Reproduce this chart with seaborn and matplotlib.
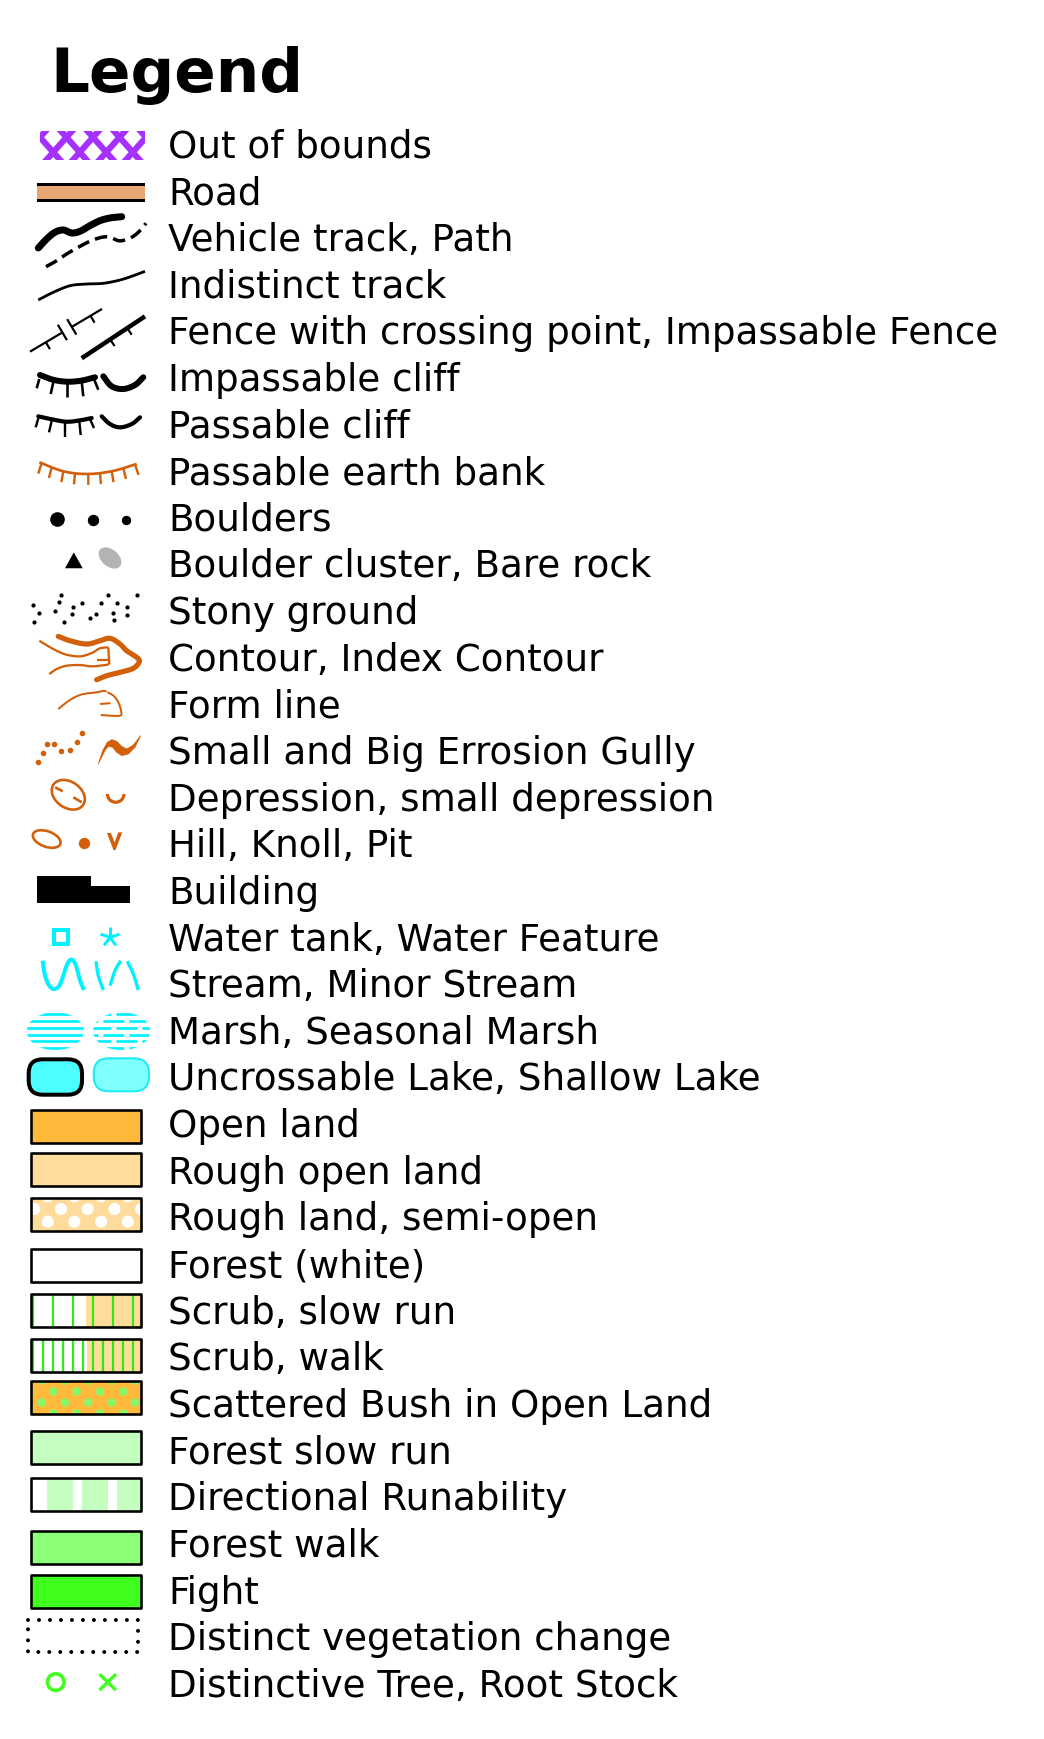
import numpy as np
import matplotlib
matplotlib.use("Agg")
import matplotlib.pyplot as plt
from matplotlib.patches import Rectangle, Ellipse, Polygon, FancyBboxPatch, Circle, Arc
import seaborn as sns

title = "Legend"
labels = [
    "Out of bounds", "Road", "Vehicle track, Path", "Indistinct track",
    "Fence with crossing point, Impassable Fence", "Impassable cliff",
    "Passable cliff", "Passable earth bank", "Boulders",
    "Boulder cluster, Bare rock", "Stony ground", "Contour, Index Contour",
    "Form line", "Small and Big Errosion Gully", "Depression, small depression",
    "Hill, Knoll, Pit", "Building", "Water tank, Water Feature",
    "Stream, Minor Stream", "Marsh, Seasonal Marsh",
    "Uncrossable Lake, Shallow Lake", "Open land", "Rough open land",
    "Rough land, semi-open", "Forest (white)", "Scrub, slow run", "Scrub, walk",
    "Scattered Bush in Open Land", "Forest slow run", "Directional Runability",
    "Forest walk", "Fight", "Distinct vegetation change",
    "Distinctive Tree, Root Stock",
]

# map colours
purple = "#A531FF"
road_tan = "#E8A673"
brown = "#D2600A"
rock_grey = "#B3B3B3"
cyan = "#00F2FF"
lake_deep = "#4DFFFF"
lake_shallow = "#80FFFF"
open_orange = "#FFBA3B"
rough_orange = "#FFDB9C"
light_green = "#C5FFBF"
mid_green = "#8CFF78"
fight_green = "#40FF1E"
bush_green = "#86F96A"
stripe_green = "#2EEB14"

# vegetation swatches (rows 21-31)
swatch_fill = [open_orange, rough_orange, rough_orange, "white", "white", "white",
               open_orange, light_green, light_green, mid_green, fight_green]
swatch_pattern = ["plain", "plain", "white_dots", "plain", "scrub_slow", "scrub_walk",
                  "green_dots", "plain", "directional", "plain", "plain"]

# ---- layout (pixels) ----
W, H = 1044, 1740
PX = 72 / 100          # points per pixel at dpi 100
ROW0, STEP = 144, 46.64
TEXT_X = 168
swatch_shift = [3.6, 0, -1.7, 3.1, 1.5, 0, -4.3, -1.2, -1, 4.8, 3]

sns.set_theme(style="white")
plt.rcParams["font.family"] = ["DejaVu Sans"]
plt.rcParams["text.color"] = "black"
plt.rcParams["lines.scale_dashes"] = False

fig = plt.figure(figsize=(W / 100, H / 100), dpi=100)
ax = fig.add_axes([0, 0, 1, 1])


def row_y(i):
    return ROW0 + STEP * i


def smooth(local, n=10):
    p = np.asarray(local, float)
    if len(p) < 3:
        return p
    ext = np.vstack([2 * p[0] - p[1], p, 2 * p[-1] - p[-2]])
    t = np.linspace(0, 1, n, endpoint=False)[:, None]
    out = []
    for j in range(1, len(ext) - 2):
        p0, p1, p2, p3 = ext[j - 1], ext[j], ext[j + 1], ext[j + 2]
        out.append(0.5 * (2 * p1 + (-p0 + p2) * t + (2 * p0 - 5 * p1 + 4 * p2 - p3) * t ** 2
                          + (-p0 + 3 * p1 - 3 * p2 + p3) * t ** 3))
    out.append(p[-1:])
    return np.vstack(out)


def stroke(i, local, lw, color, curve=True, cap="round", **kw):
    p = smooth(local) if curve else np.asarray(local, float)
    ln, = ax.plot(p[:, 0], row_y(i) + p[:, 1], color=color, lw=lw * PX,
                  solid_capstyle=cap, solid_joinstyle="round", dash_capstyle="butt", **kw)
    return ln


def dots(i, xs, dys, r, color):
    sns.scatterplot(x=list(xs), y=[row_y(i) + d for d in dys], s=(2 * r * PX) ** 2,
                    color=color, linewidth=0, ax=ax, legend=False, zorder=3)


# ---- title and labels ----
ax.text(50, 92, title, fontsize=44, fontweight="bold", va="baseline", ha="left",
        color="black")
for i, lab in enumerate(labels):
    ax.text(TEXT_X, row_y(i) + 13.7, lab, fontsize=26.8, va="baseline", ha="left",
            color="black")

# 0 out of bounds
y = row_y(0)
ob = Rectangle((40, y - 12.5), 105, 29, facecolor="white", edgecolor="none")
ax.add_patch(ob)
for k in range(-2, 7):
    xc, yc = 40 + 26.5 * k, y - 5.7
    for s in (1, -1):
        ln, = ax.plot([xc - 2 * s * 13.3, xc + 2 * s * 13.3], [yc - 30, yc + 30],
                      color=purple, lw=6.2 * PX, solid_capstyle="butt")
        ln.set_clip_path(ob)

# 1 road
y = row_y(1)
ax.add_patch(Rectangle((37, y - 6.6), 108, 18.6, facecolor="black", edgecolor="none"))
ax.add_patch(Rectangle((37, y - 3.9), 108, 13.2, facecolor=road_tan, edgecolor="none"))

# 2 vehicle track, path
stroke(2, [(38.3, 11.7), (46.7, 2.7), (55, -4), (63.3, -6.3), (71.7, -3.3), (80, -5),
           (90, -10.6), (100, -15.6), (110, -18.3), (121.7, -19.6)], 7, "black")
stroke(2, [(46, 30.4), (56.7, 24.4), (66.7, 17.7), (78.3, 11), (90, 5), (101.7, 1),
           (110, 1), (118.3, 4.4), (125, 3.7), (131.7, 1), (138.3, -4), (146, -13)],
       3.5, "black", cap="butt", linestyle=(0, (9, 4.5)))

# 3 indistinct track
stroke(3, [(38.3, 17), (53.3, 9.4), (70, 2.8), (86.7, 1.1), (103.3, 0.4), (120, -2.9),
           (133.3, -7.2), (145, -11.6)], 2.8, "black", cap="butt")

# 4 fences
A, B = np.array([30, 22.1]), np.array([102, -20.6])
d = (B - A) / np.linalg.norm(B - A)
nrm = np.array([-d[1], d[0]])
if nrm[1] < 0:
    nrm = -nrm
C1, C2 = A + 0.45 * (B - A), A + 0.58 * (B - A)
stroke(4, [A, C1], 2.2, "black", curve=False, cap="butt")
stroke(4, [C2, B], 2.2, "black", curve=False, cap="butt")
for c in (C1, C2):
    stroke(4, [c - 9 * nrm, c + 9 * nrm], 2.2, "black", curve=False, cap="butt")
for t in (0.22, 0.84):
    c = A + t * (B - A)
    stroke(4, [c, c + 8 * nrm], 2.2, "black", curve=False, cap="butt")
A2, B2 = np.array([81.7, 28.7]), np.array([145, -13.2])
stroke(4, [A2, B2], 4.5, "black", curve=False, cap="butt")
d2 = (B2 - A2) / np.linalg.norm(B2 - A2)
n2 = np.array([-d2[1], d2[0]])
if n2[1] < 0:
    n2 = -n2
for t in (0.45, 0.72):
    c = A2 + t * (B2 - A2)
    stroke(4, [c, c + 8 * n2], 2.2, "black", curve=False, cap="butt")

# 5 impassable cliff
stroke(5, [(40, -1.2), (53, 3.5), (66.7, 5.5), (81, 4.5), (95, 1.1)], 6, "black")
for a, b in [((39.3, 2.8), (36.7, 12.1)), ((53.3, 6.1), (50.7, 17.8)), ((66.7, 6.8), (66.7, 21.1)),
             ((81.7, 5.5), (83.3, 20.1)), ((94, 2.8), (98.3, 13.5))]:
    stroke(5, [a, b], 2.6, "black", curve=False, cap="butt")
stroke(5, [(103.3, 0.1), (111.7, 10.1), (123.3, 12.8), (135, 8.8), (143.3, 1.1)], 6, "black")

# 6 passable cliff
stroke(6, [(38.3, -6.5), (52, -3.5), (66.7, -1.1), (80, -2.5), (91.7, -4.8)], 4.2, "black")
for a, b in [((38.3, -4.5), (35.7, 4.5)), ((51.7, -2.1), (49, 9.5)), ((65, -0.5), (65, 13.9)),
             ((79.3, -1.5), (80.7, 12.2)), ((90, -3.8), (94, 5.2))]:
    stroke(6, [a, b], 2.4, "black", curve=False, cap="butt")
stroke(6, [(101.7, -6.5), (110, 1.2), (120, 4.5), (131.7, 1.2), (140, -5.5)], 4.2, "black")

# 7 passable earth bank
bank = smooth([(39.3, -7.2), (63.3, 1.8), (86.7, 4.5), (111.7, 1.8), (136.7, -5.5)])
ax.plot(bank[:, 0], row_y(7) + bank[:, 1], color=brown, lw=2.7 * PX, solid_capstyle="butt")
for tx in [41.7, 51.7, 63.3, 75, 88.3, 100, 111.7, 123.3, 135]:
    ty = np.interp(tx, bank[:, 0], bank[:, 1])
    a = (tx - 88) / 50 * 0.35
    stroke(7, [(tx, ty), (tx + 11 * np.sin(a), ty + 11 * np.cos(a))], 2.4, brown,
           curve=False, cap="butt")

# 8 boulders
for bx, bdy, br in [(56.7, 3, 7.3), (93.3, 3.5, 5.7), (126, 3.9, 4.7)]:
    dots(8, [bx], [bdy], br, "black")

# 9 boulder cluster, bare rock
y = row_y(9)
ax.add_patch(Polygon([(65, y + 5.5), (82.7, y + 5.5), (73.8, y - 10.4)], closed=True,
                     facecolor="black", edgecolor="none"))
ax.add_patch(Ellipse((110, y - 4.8), 26, 17, angle=40, facecolor=rock_grey, edgecolor="none"))

# 10 stony ground
stony = [(33.3, -4.7), (39.3, 3.9), (34.3, 12.3), (61.3, -14.4), (59.3, -7.1), (55.3, 1.3),
         (64, 12.3), (73.3, -2.4), (71.7, 4.6), (82, -6.4), (89.7, 8.9), (96.3, 4.6),
         (101, -6.1), (108, -14.1), (117.3, -6.4), (112.7, 3.9), (113.7, 10.3),
         (127.3, -2.7), (126.7, 5.9), (136.7, -14.4)]
dots(10, [p[0] for p in stony], [p[1] for p in stony], 2.1, "black")

# 11 contour, index contour
stroke(11, [(58.3, -19.7), (70, -15.3), (86.7, -12), (100, -15.3), (110, -17.7), (120, -12),
            (126.7, -5.3), (136.7, 1.3), (139.3, 5.7), (133.3, 12.3), (120, 16.3),
            (106.7, 19.7), (96.7, 23.7)], 5.2, brown)
stroke(11, [(39.3, -15.3), (53.3, -7), (66, -1.5), (80, 0.3), (91.7, -3), (100, -7.7),
            (108.3, -8.7)], 2.3, brown, cap="butt")
stroke(11, [(108.3, -8.7), (109.3, 8)], 2.3, brown, curve=False, cap="butt")
stroke(11, [(109.3, 8), (105, 9), (91.7, 10.3), (80, 9), (66.7, 9.7), (56.7, 13),
            (49.3, 18)], 2.3, brown, cap="butt")
stroke(11, [(97.3, 4), (108.3, 4)], 2.3, brown, curve=False, cap="butt")

# 12 form line
stroke(12, [(58.3, 6.3), (70, -2.7), (81.7, -8.2), (96.7, -10.4), (103.3, -11.7),
            (106.7, -11.2)], 2, brown, cap="butt")
stroke(12, [(107.5, -10.5), (114, -6.5), (118.5, 0), (121, 8), (120.5, 12.8), (111, 13),
            (100.8, 12.3)], 2, brown, cap="butt")
stroke(12, [(100, 1.3), (110.5, 0.5)], 2, brown, curve=False, cap="butt")

# 13 erosion gullies
gully = [(38.3, 13), (42.7, 4), (47.3, -5), (54.3, -5), (61.3, 2), (70.3, 0.4), (76.7, -7.3),
         (82, -16.3)]
dots(13, [p[0] for p in gully], [p[1] for p in gully], 2.8, brown)
y = row_y(13)
big = [(98.3, 14.7), (102.7, 1.3), (107.3, -7), (111.7, -9.7), (116.7, -8), (121.7, -3),
       (126.7, -0.3), (133.3, -4.3), (140.7, -13.7), (135, -2), (128.3, 4.7), (121.7, 6.3),
       (116.7, 3), (112.7, -2), (108.3, -3), (105, 1.3)]
ax.add_patch(Polygon([(px, y + py) for px, py in big], closed=True, facecolor=brown,
                     edgecolor=brown, lw=0.5, joinstyle="round"))

# 14 depression, small depression
y = row_y(14)
ax.add_patch(Ellipse((68.3, y - 1.2), 36, 26, angle=35, facecolor="none", edgecolor=brown,
                     lw=2.6 * PX))
stroke(14, [(55, -8.7), (62.7, -4.7)], 2.6, brown, curve=False, cap="butt")
stroke(14, [(73.3, 1.3), (81.7, 6.3)], 2.6, brown, curve=False, cap="butt")
ax.add_patch(Arc((115.7, y - 2), 16.6, 16.6, theta1=0, theta2=180, color=brown, lw=3.2 * PX))

# 15 hill, knoll, pit
y = row_y(15)
ax.add_patch(Ellipse((46.7, y - 3.6), 29, 15.5, angle=20, facecolor="none", edgecolor=brown,
                     lw=2.6 * PX))
dots(15, [84.3], [0.4], 5.7, brown)
pit = [(107, -9.6), (111, -9.6), (114.5, 0), (118.3, -10.3), (122.3, -10.3), (115.5, 7.5),
       (113.5, 7.5)]
ax.add_patch(Polygon([(px, y + py) for px, py in pit], closed=True, facecolor=brown,
                     edgecolor="none"))

# 16 building
y = row_y(16)
bld = [(36.7, -13.5), (90.7, -13.5), (90.7, -2.9), (130, -2.9), (130, 14.1), (36.7, 14.1)]
ax.add_patch(Polygon([(px, y + py) for px, py in bld], closed=True, facecolor="black",
                     edgecolor="none"))

# 17 water tank, water feature
y = row_y(17)
ax.add_patch(Rectangle((54.3, y - 5.4), 13.7, 13.7, facecolor="none", edgecolor=cyan,
                       lw=4 * PX, joinstyle="miter"))
for ang in (90, 162, 234, 306, 18):
    r = np.deg2rad(ang)
    stroke(17, [(110, 1.4), (110 + 10 * np.cos(r), 1.4 - 10 * np.sin(r))], 3, cyan,
           curve=False, cap="butt")

# 18 stream, minor stream
stroke(18, [(42.7, -21.8), (44, -11.8), (46.7, -1.8), (50.7, 4.8), (55, 6.5), (59.3, 3.2),
            (62.7, -5.2), (66, -15.2), (69.3, -21.8), (72.7, -22.5), (76, -16.8),
            (78.7, -6.8), (81.3, 1.5), (84, 7.5)], 4, cyan, cap="butt")
for seg in ([(96, -21.2), (98.3, -6.8), (103.3, 7.5)],
            [(110, 3.2), (115, -11.8), (120.7, -21.8)],
            [(127.3, -21.2), (133.3, -8.5), (138.3, 7.5)]):
    stroke(18, seg, 3.3, cyan, cap="butt")

# 19 marsh, seasonal marsh
y = row_y(19)
for mx, seasonal in ((55.3, False), (121.7, True)):
    clip = Ellipse((mx, y + 2), 57, 38, facecolor="none", edgecolor="none")
    ax.add_patch(clip)
    for j, ldy in enumerate([-15, -8.2, -1.4, 5.4, 12.2, 19]):
        if seasonal:
            ls = (0 if j % 2 == 0 else 9.4, (15.1, 3.6))
        else:
            ls = "-"
        ln, = ax.plot([mx - 32, mx + 32], [y + ldy, y + ldy], color=cyan, lw=2.7 * PX,
                      linestyle=ls, solid_capstyle="butt", dash_capstyle="butt")
        ln.set_clip_path(clip)

# 20 lakes
y = row_y(20)
ax.add_patch(FancyBboxPatch((28.7, y - 16.5), 53.3, 35.4, boxstyle="round,pad=0,rounding_size=14",
                            facecolor=lake_deep, edgecolor="black", lw=4 * PX))
ax.add_patch(FancyBboxPatch((93.7, y - 17.5), 55.3, 33, boxstyle="round,pad=0,rounding_size=15",
                            facecolor=lake_shallow, edgecolor="#19EDF5", lw=2 * PX))

# 21-31 vegetation swatches
for k, (fill, pat, sh) in enumerate(zip(swatch_fill, swatch_pattern, swatch_shift)):
    cy = row_y(21 + k) + sh
    x0, x1, h = 31, 141, 33
    y0 = cy - h / 2
    base = Rectangle((x0, y0), x1 - x0, h, facecolor=fill, edgecolor="none", zorder=2)
    ax.add_patch(base)
    if pat == "white_dots":
        for rdy, xstart in ((-17.7, 47.7), (-5, 34.3), (7.7, 47.7)):
            for xc in np.arange(xstart, x1 + 8, 26.7):
                c = Circle((xc, cy + rdy), 6, facecolor="white", edgecolor="none", zorder=3)
                ax.add_patch(c)
                c.set_clip_path(base)
    elif pat == "green_dots":
        for rdy, xstart in ((-17.5, 41.7), (-6.5, 30), (4.5, 41.7), (15.5, 30)):
            for xc in np.arange(xstart, x1 + 6, 23.3):
                c = Circle((xc, cy + rdy), 4.2, facecolor=bush_green, edgecolor="none", zorder=3)
                ax.add_patch(c)
                c.set_clip_path(base)
    elif pat in ("scrub_slow", "scrub_walk"):
        split = 85.5 if pat == "scrub_slow" else 86.7
        ax.add_patch(Rectangle((split, y0), x1 - split, h, facecolor=rough_orange,
                               edgecolor="none", zorder=2))
        step = 20 if pat == "scrub_slow" else 10
        ax.vlines(np.arange(33.3, x1, step), y0, y0 + h, colors=stripe_green,
                  lw=2.2 * PX, zorder=3)
    elif pat == "directional":
        for wx0, wx1 in ((31, 46.7), (73, 81.7), (108.3, 117.3)):
            ax.add_patch(Rectangle((wx0, y0), wx1 - wx0, h, facecolor="white",
                                   edgecolor="none", zorder=3))
    ax.add_patch(Rectangle((x0, y0), x1 - x0, h, facecolor="none", edgecolor="black",
                           lw=2.6 * PX, zorder=4, joinstyle="round"))

# 32 distinct vegetation change
y = row_y(32)
dv = Rectangle((28.3, y - 15.8), 110, 32.2, facecolor="none", edgecolor="black",
               lw=4 * PX, linestyle=(0, (0.01, 7.9)))
dv.set_capstyle("round")
ax.add_patch(dv)

# 33 distinctive tree, root stock
y = row_y(33)
ax.add_patch(Circle((55.7, y), 8.3, facecolor="none", edgecolor=fight_green, lw=3.6 * PX))
stroke(33, [(99.5, -8), (116, 8)], 3.4, fight_green, curve=False, cap="butt")
stroke(33, [(99.5, 8), (116, -8)], 3.4, fight_green, curve=False, cap="butt")

ax.set_xlim(0, W)
ax.set_ylim(H, 0)
ax.axis("off")
fig.savefig("out.png", dpi=100, facecolor="white")
